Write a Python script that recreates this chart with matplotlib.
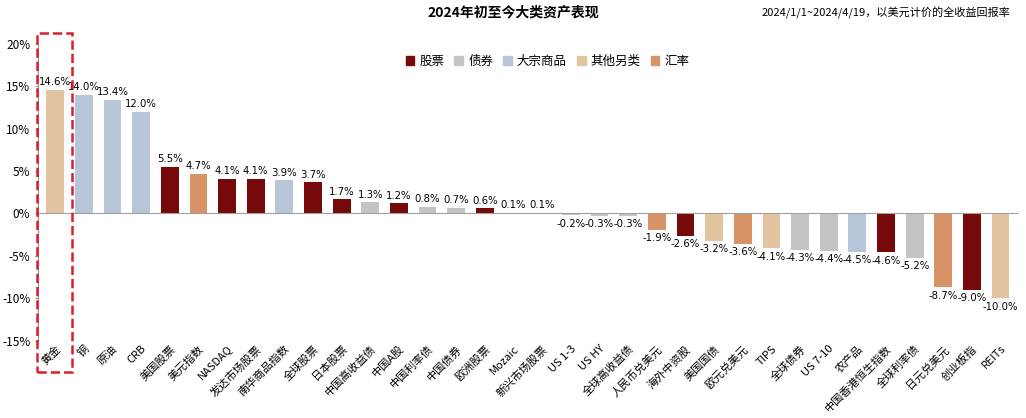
import matplotlib.pyplot as plt
from matplotlib.patches import Rectangle, Patch

plt.rcParams['font.family'] = ['Noto Sans CJK SC', 'DejaVu Sans']

labels = ['黄金', '铜', '原油', 'CRB', '美国股票', '美元指数', 'NASDAQ', '发达市场股票', '南华商品指数',
          '全球股票', '日本股票', '中国高收益债', '中国A股', '中国利率债', '中国债券', '欧洲股票', 'Mozaic',
          '新兴市场股票', 'US 1-3', 'US HY', '全球高收益债', '人民币兑美元', '海外中资股', '美国国债',
          '欧元兑美元', 'TIPS', '全球债券', 'US 7-10', '农产品', '中国香港恒生指数', '全球利率债',
          '日元兑美元', '创业板指', 'REITs']
values = [14.6, 14.0, 13.4, 12.0, 5.5, 4.7, 4.1, 4.1, 3.9, 3.7, 1.7, 1.3, 1.2, 0.8, 0.7, 0.6, 0.1,
          0.1, -0.2, -0.3, -0.3, -1.9, -2.6, -3.2, -3.6, -4.1, -4.3, -4.4, -4.5, -4.6, -5.2,
          -8.7, -9.0, -10.0]
kinds = ['alt', 'com', 'com', 'com', 'stk', 'fx', 'stk', 'stk', 'com', 'stk', 'stk', 'bnd', 'stk',
         'bnd', 'bnd', 'stk', 'bnd', 'stk', 'bnd', 'bnd', 'bnd', 'fx', 'stk', 'alt', 'fx', 'alt',
         'bnd', 'bnd', 'com', 'stk', 'bnd', 'fx', 'stk', 'alt']

palette = {'stk': '#760a0a', 'bnd': '#c4c4c4', 'com': '#b7c5d9', 'alt': '#e2c4a0', 'fx': '#d89367'}
names = {'stk': '股票', 'bnd': '债券', 'com': '大宗商品', 'alt': '其他另类', 'fx': '汇率'}

fig = plt.figure(figsize=(10.26, 4.18), dpi=100)
ax = fig.add_axes([0.037, 0.185, 0.955, 0.71])
x = range(len(values))
ax.bar(x, values, width=0.62, color=[palette[k] for k in kinds])
for i, v in enumerate(values):
    ax.text(i, v + (0.3 if v >= 0 else -0.4), f'{v:.1f}%', ha='center',
            va='bottom' if v >= 0 else 'top', fontsize=7.3, family=['DejaVu Sans'])

ax.set_ylim(-15, 20)
ax.set_xlim(-0.6, len(values) - 0.4)
ax.set_yticks(range(-15, 21, 5))
ax.set_yticklabels([f'{t}%' for t in range(-15, 21, 5)], fontsize=8.5)
ax.axhline(0, color='#a0a0a0', lw=0.8)
ax.set_xticks(list(x))
ax.set_xticklabels(labels, rotation=45, ha='right', rotation_mode='anchor', fontsize=8)
ax.tick_params(axis='x', length=0, pad=2)
ax.tick_params(axis='y', length=2, color='#999999')
for s in ['top', 'right', 'bottom']:
    ax.spines[s].set_visible(False)
ax.spines['left'].set_color('#999999')

fig.patches.append(Rectangle((37 / 1026, 1 - 372 / 418), 35 / 1026, 339 / 418,
                             transform=fig.transFigure, fill=False, ec='#d9202b', lw=1.8, ls='--'))

handles = [Patch(color=palette[k], label=names[k]) for k in ['stk', 'bnd', 'com', 'alt', 'fx']]
ax.legend(handles=handles, loc='upper center', bbox_to_anchor=(0.52, 1.0), ncol=5, frameon=False,
          fontsize=9, handlelength=0.7, handleheight=0.7, columnspacing=0.8, handletextpad=0.4)

fig.text(0.5, 0.97, '2024年初至今大类资产表现', ha='center', va='center', fontsize=10, fontweight='bold')
fig.text(0.985, 0.97, '2024/1/1~2024/4/19，以美元计价的全收益回报率', ha='right', va='center', fontsize=8)

fig.savefig('out.png', dpi=100)
